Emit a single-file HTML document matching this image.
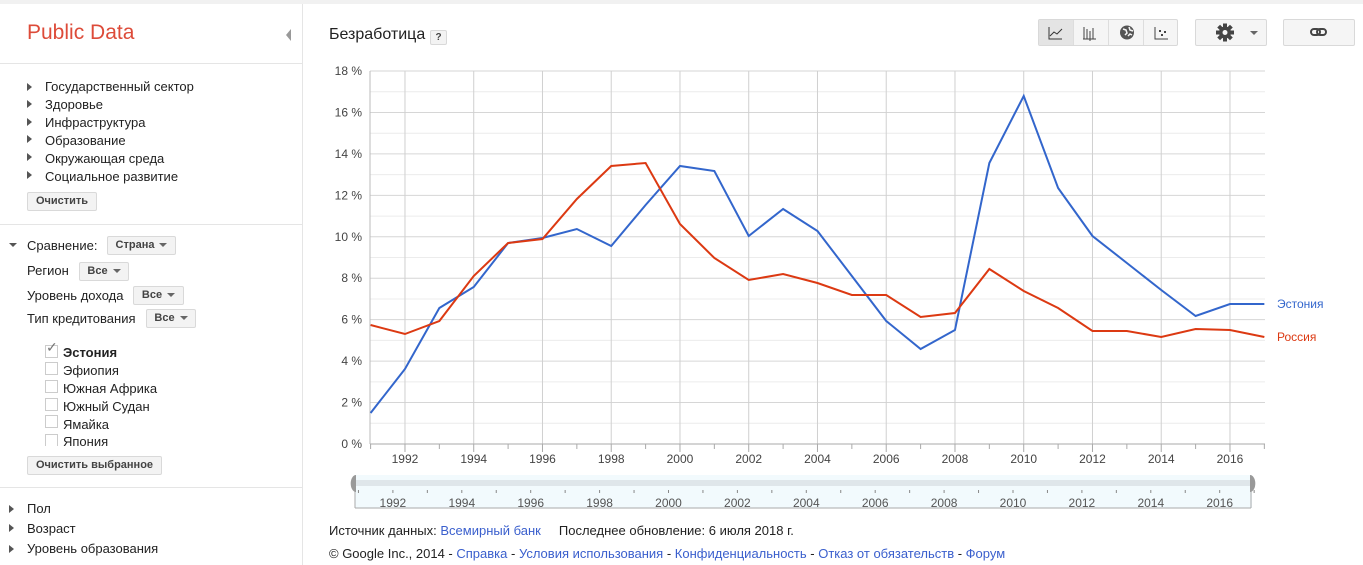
<!DOCTYPE html>
<html><head><meta charset="utf-8">
<style>
body{margin:0;width:1363px;height:565px;overflow:hidden;background:#fff;font-family:"Liberation Sans",Arial,sans-serif;font-size:13px;color:#222;position:relative}
.topbar{position:absolute;left:0;top:0;width:1363px;height:4px;background:#f1f1f1}
.side{position:absolute;left:0;top:4px;width:302px;height:561px;border-right:1px solid #e5e5e5}
.hr{position:absolute;left:0;width:302px;height:1px;background:#e5e5e5}
.t{position:absolute;white-space:nowrap}
.btn{position:absolute;border:1px solid #d9d9d9;background:#f3f3f3;font-size:11px;font-weight:bold;color:#444;border-radius:2px;text-align:center;box-sizing:border-box}
.tri{position:absolute;width:0;height:0;border-top:4px solid transparent;border-bottom:4px solid transparent;border-left:5px solid #555}
.dn{display:inline-block;width:0;height:0;border-left:4px solid transparent;border-right:4px solid transparent;border-top:4px solid #666;vertical-align:middle;margin-left:5px}
.cb{position:absolute;width:11px;height:11px;border:1px solid #ccc;background:#fff}
a{color:#3a5fcd;text-decoration:none}
</style></head><body>
<div class="topbar"></div>
<div class="side">
<div class="t" style="left:27px;top:17px;font-size:21px;color:#dd4b39">Public Data</div>
<div style="position:absolute;left:286px;top:25px;width:0;height:0;border-top:6px solid transparent;border-bottom:6px solid transparent;border-right:5px solid #999"></div>
</div>
<div class="hr" style="top:63px"></div>
<div class="tri" style="left:27px;top:83px"></div><div class="t" style="left:45px;top:79px">Государственный сектор</div>
<div class="tri" style="left:27px;top:100px"></div><div class="t" style="left:45px;top:97px">Здоровье</div>
<div class="tri" style="left:27px;top:118px"></div><div class="t" style="left:45px;top:115px">Инфраструктура</div>
<div class="tri" style="left:27px;top:135px"></div><div class="t" style="left:45px;top:133px">Образование</div>
<div class="tri" style="left:27px;top:153px"></div><div class="t" style="left:45px;top:151px">Окружающая среда</div>
<div class="tri" style="left:27px;top:171px"></div><div class="t" style="left:45px;top:169px">Социальное развитие</div>
<div class="btn" style="left:27px;top:192px;width:70px;height:19px;line-height:17px">Очистить</div>
<div class="hr" style="top:224px"></div>
<div style="position:absolute;left:9px;top:226px;width:0;height:0;border-left:4px solid transparent;border-right:4px solid transparent;border-top:4px solid #555;margin-top:17px"></div>
<div class="t" style="left:27px;top:238px">Сравнение:</div>
<div class="btn" style="left:107px;top:236px;width:69px;height:19px;line-height:17px">Страна<span class="dn"></span></div>
<div class="t" style="left:27px;top:263px">Регион</div>
<div class="btn" style="left:79px;top:262px;width:50px;height:19px;line-height:17px">Все<span class="dn"></span></div>
<div class="t" style="left:27px;top:288px">Уровень дохода</div>
<div class="btn" style="left:133px;top:286px;width:51px;height:19px;line-height:17px">Все<span class="dn"></span></div>
<div class="t" style="left:27px;top:311px">Тип кредитования</div>
<div class="btn" style="left:146px;top:309px;width:50px;height:19px;line-height:17px">Все<span class="dn"></span></div>
<div class="cb" style="left:45px;top:345px"></div><div class="t" style="left:46px;top:339px;font-size:14px;color:#777">✓</div><div class="t" style="left:63px;top:345px;font-weight:bold">Эстония</div>
<div class="cb" style="left:45px;top:362px"></div><div class="t" style="left:63px;top:363px">Эфиопия</div>
<div class="cb" style="left:45px;top:380px"></div><div class="t" style="left:63px;top:381px">Южная Африка</div>
<div class="cb" style="left:45px;top:398px"></div><div class="t" style="left:63px;top:399px">Южный Судан</div>
<div class="cb" style="left:45px;top:415px"></div><div class="t" style="left:63px;top:417px">Ямайка</div>
<div style="position:absolute;left:40px;top:432px;width:200px;height:14px;overflow:hidden"><div class="cb" style="left:5px;top:2px"></div><div class="t" style="left:23px;top:2px">Япония</div></div>
<div class="btn" style="left:27px;top:456px;width:135px;height:19px;line-height:17px">Очистить выбранное</div>
<div class="hr" style="top:487px"></div>
<div class="tri" style="left:9px;top:505px"></div><div class="t" style="left:27px;top:501px">Пол</div>
<div class="tri" style="left:9px;top:524px"></div><div class="t" style="left:27px;top:521px">Возраст</div>
<div class="tri" style="left:9px;top:545px"></div><div class="t" style="left:27px;top:541px">Уровень образования</div>

<div class="t" style="left:329px;top:26px;font-size:16px">Безработица</div>
<div class="btn" style="left:430px;top:30px;width:17px;height:15px;line-height:13px;font-size:10px">?</div>

<div style="position:absolute;left:1038px;top:19px;width:140px;height:27px;border:1px solid #d9d9d9;background:#f5f5f5;border-radius:2px;box-sizing:border-box"></div>
<div style="position:absolute;left:1039px;top:20px;width:34px;height:25px;background:#e4e4e4"></div>
<div style="position:absolute;left:1073px;top:20px;width:1px;height:25px;background:#ddd"></div>
<div style="position:absolute;left:1108px;top:20px;width:1px;height:25px;background:#ddd"></div>
<div style="position:absolute;left:1143px;top:20px;width:1px;height:25px;background:#ddd"></div>
<svg style="position:absolute;left:1038px;top:19px" width="140" height="27">
<path d="M11 8v12h13M12 17l4-4 3 2 5-5" stroke="#333" fill="none"/>
<path d="M46 8v12M49 10v10M52 12v10M55 9v11M45 20h13" stroke="#444" fill="none"/>
<circle cx="89" cy="13.5" r="7" fill="#555"/><path d="M85 10l3 1 1 3-2 2M91 8l1 3 3 1M90 17l2-2 2 1" stroke="#f5f5f5" stroke-width="1.5" fill="none"/>
<path d="M117 8v12h13" stroke="#444" fill="none"/><rect x="121" y="11" width="2" height="2" fill="#444"/><rect x="126" y="12" width="2" height="2" fill="#444"/><rect x="123" y="15" width="2" height="2" fill="#444"/>
</svg>
<div style="position:absolute;left:1195px;top:19px;width:72px;height:27px;border:1px solid #d9d9d9;background:#f5f5f5;border-radius:2px;box-sizing:border-box"></div>
<svg style="position:absolute;left:1195px;top:19px" width="72" height="27">
<g transform="translate(30,13.5)" fill="#444"><circle r="6"/><g id="tt"><rect x="-2" y="-9" width="4" height="18"/><rect x="-9" y="-2" width="18" height="4"/></g><use href="#tt" transform="rotate(45)"/><circle r="2.5" fill="#f5f5f5"/></g>
<path d="M55 12h8l-4 4z" fill="#666"/>
</svg>
<div style="position:absolute;left:1283px;top:19px;width:72px;height:27px;border:1px solid #d9d9d9;background:#f5f5f5;border-radius:2px;box-sizing:border-box"></div>
<svg style="position:absolute;left:1283px;top:19px" width="72" height="27"><rect x="28" y="10" width="9" height="6" rx="3" stroke="#444" stroke-width="2" fill="none"/><rect x="34" y="10" width="9" height="6" rx="3" stroke="#444" stroke-width="2" fill="none"/></svg>

<svg id="ch" style="position:absolute;left:0;top:0" width="1363" height="520"></svg>

<div class="t" style="left:329px;top:523px;font-size:13px">Источник данных: <a>Всемирный банк</a>&nbsp;&nbsp;&nbsp;&nbsp; Последнее обновление: 6 июля 2018 г.</div>
<div class="t" style="left:329px;top:546px;font-size:13px">© Google Inc., 2014 - <a>Справка</a> - <a>Условия использования</a> - <a>Конфиденциальность</a> - <a>Отказ от обязательств</a> - <a>Форум</a></div>

<script>
var X=function(y){return 370.6+34.375*(y-1991)};
var Y=function(p){return 444-p*20.72};
var s='';
for(var p=1;p<=18;p++){s+='<line x1="370" x2="1265" y1="'+Y(p)+'" y2="'+Y(p)+'" stroke="'+(p%2?'#ececec':'#d6d6d6')+'"/>';}
for(var y=1992;y<=2016;y+=2){s+='<line x1="'+X(y)+'" x2="'+X(y)+'" y1="71" y2="444" stroke="#d0d0d0"/>';}
for(var y=1991;y<=2017;y++){s+='<line x1="'+X(y)+'" x2="'+X(y)+'" y1="444" y2="'+(y%2?449:452)+'" stroke="#aaa"/>';}
s+='<line x1="370" x2="370" y1="71" y2="444" stroke="#bbb"/><line x1="370" x2="1265" y1="444" y2="444" stroke="#aaa"/>';
for(var p=0;p<=18;p+=2){s+='<text x="362" y="'+(Y(p)+4)+'" text-anchor="end" font-size="12" fill="#444" font-family="Liberation Sans,Arial,sans-serif">'+p+' %</text>';}
for(var y=1992;y<=2016;y+=2){s+='<text x="'+X(y)+'" y="463" text-anchor="middle" font-size="12" fill="#444" font-family="Liberation Sans,Arial,sans-serif">'+y+'</text>';}
var e=[413,369,308,287,243,238,229,246,205,166,171,236,209,231,276,321,349,330,163,96,188,236,263,290,316,304,304];
var r=[325,334,321,276,243,239,199,166,163,224,258,280,274,283,295,295,317,313,269,291,308,331,331,337,329,330,337];
function pl(a,c){var q=a.map(function(v,i){return X(1991+i)+','+v}).join(' ');return '<polyline points="'+q+'" fill="none" stroke="'+c+'" stroke-width="2"/>';}
s+=pl(e,'#3366cc')+pl(r,'#dc3912');
s+='<text x="1277" y="308" font-size="12" fill="#3366cc" font-family="Liberation Sans,Arial,sans-serif">Эстония</text>';
s+='<text x="1277" y="341" font-size="12" fill="#dc3912" font-family="Liberation Sans,Arial,sans-serif">Россия</text>';
s+='<rect x="355" y="475" width="897" height="33" fill="#f2fafd"/><rect x="355" y="480" width="897" height="6" fill="#dfe6ea"/>';
s+='<line x1="355" x2="355" y1="490" y2="508" stroke="#aaa"/><line x1="1251" x2="1251" y1="490" y2="508" stroke="#aaa"/><line x1="355" x2="1251" y1="508" y2="508" stroke="#aaa"/>';
s+='<path d="M356 475a5 8 0 0 0 0 17z" fill="#999"/><path d="M1250 475a5 8 0 0 1 0 17z" fill="#999"/>';
var sx=function(y){return 355+34.45*(y-1990.9)};
for(var y=1991;y<=2017;y++){s+='<line x1="'+sx(y)+'" x2="'+sx(y)+'" y1="490" y2="493" stroke="#888"/>';}
for(var y=1992;y<=2016;y+=2){s+='<text x="'+sx(y)+'" y="507" text-anchor="middle" font-size="12" fill="#555" font-family="Liberation Sans,Arial,sans-serif">'+y+'</text>';}
document.getElementById('ch').innerHTML=s;
</script>
</body></html>
